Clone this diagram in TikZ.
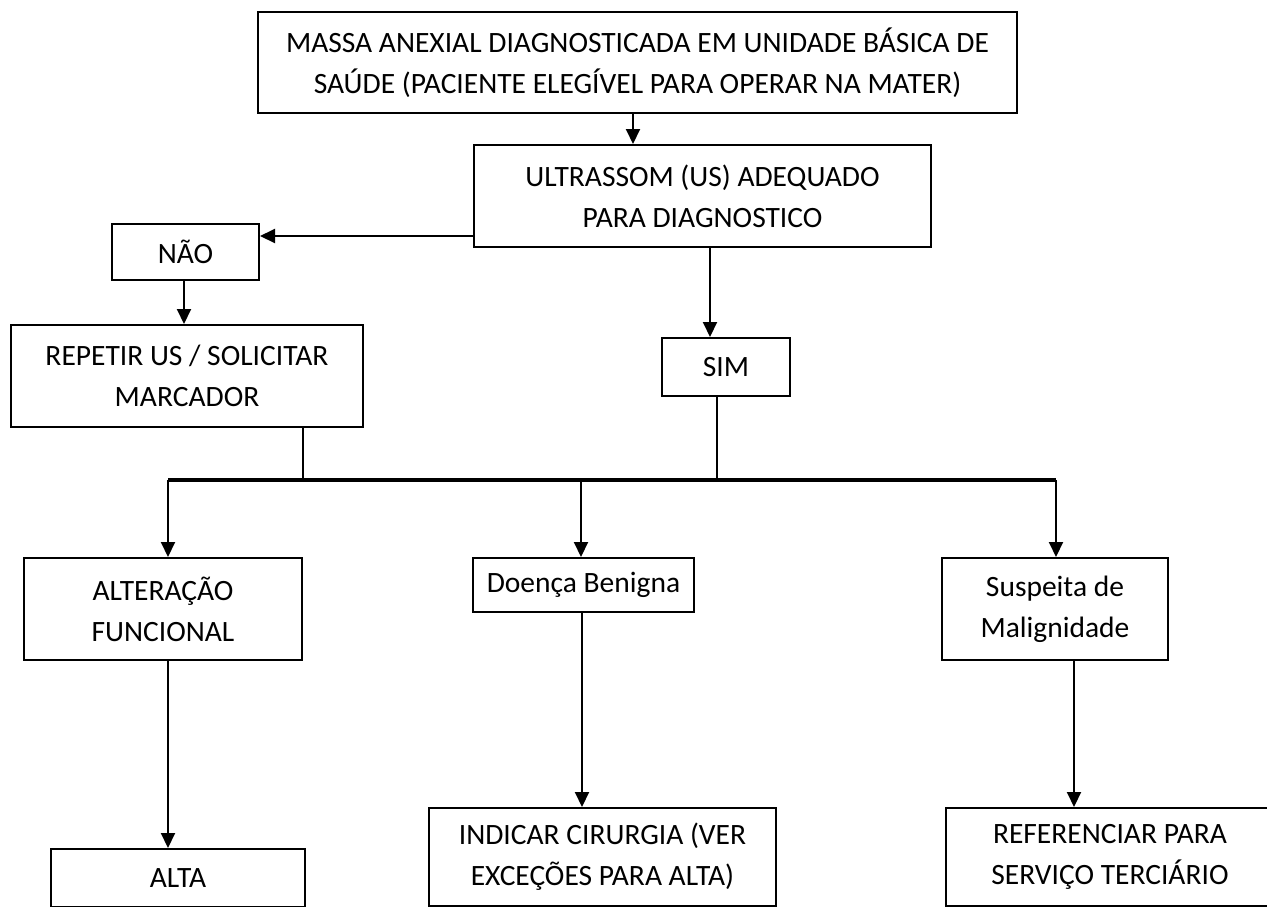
\documentclass[tikz,border=0pt]{standalone}
\usepackage{fontspec}
\setmainfont{Carlito}
\usetikzlibrary{arrows.meta}
\begin{document}
\begin{tikzpicture}[x=1pt,y=-1pt,
  box/.style={draw, line width=2pt, inner sep=0pt, align=center,
              font=\fontsize{29.5}{41}\selectfont},
  flow/.style={line width=2pt, -{Triangle[length=15pt,width=14pt]}},
  link/.style={line width=2pt},
  busline/.style={line width=3.5pt}]
\useasboundingbox (0,0) rectangle (1267,906);
\clip (0,0) rectangle (1267,906);

% boxes
\node[box, minimum width=759pt, minimum height=101pt] (massa) at (637.5,62.5)
  {MASSA ANEXIAL DIAGNOSTICADA EM UNIDADE BÁSICA DE\\SAÚDE (PACIENTE ELEGÍVEL PARA OPERAR NA MATER)};
\node[box, minimum width=457pt, minimum height=102pt] (us) at (702.5,196)
  {ULTRASSOM (US) ADEQUADO\\PARA DIAGNOSTICO};
\node[box, minimum width=147pt, minimum height=56pt] (nao) at (185.5,252) {NÃO};
\node[box, minimum width=352pt, minimum height=102pt] (rep) at (187,376)
  {REPETIR US / SOLICITAR\\MARCADOR};
\node[box, minimum width=128pt, minimum height=58pt] (sim) at (726,367) {SIM};
\node[box, minimum width=278pt, minimum height=102pt] (alt) at (163,609)
  {ALTERAÇÃO\\FUNCIONAL};
\node[box, minimum width=221pt, minimum height=54pt] (ben) at (583.5,585) {Doença Benigna};
\node[box, minimum width=226pt, minimum height=102pt] (mal) at (1055,609)
  {Suspeita de\\Malignidade};
\node[box, minimum width=254pt, minimum height=58pt] (alta) at (178,878) {ALTA};
\node[box, minimum width=347pt, minimum height=98pt] (cir) at (602.5,857)
  {INDICAR CIRURGIA (VER\\EXCEÇÕES PARA ALTA)};
\node[box, minimum width=328pt, minimum height=98pt] (ref) at (1110,857)
  {REFERENCIAR PARA\\SERVIÇO TERCIÁRIO};

% junction points on the horizontal bus
\coordinate (busL) at (168,480);
\coordinate (busR) at (1056,480);
\coordinate (jRep) at (303,480);
\coordinate (jSim) at (717,480);
\coordinate (busM) at (581,480);

% connectors
\draw[flow] (633,0 |- massa.south) -- (633,0 |- us.north);
\draw[flow] (us.west |- 0,236) -- (nao.east |- 0,236);
\draw[flow] (184,0 |- nao.south) -- (184,0 |- rep.north);
\draw[flow] (710,0 |- us.south) -- (710,0 |- sim.north);
\draw[link] (303,0 |- rep.south) -- (jRep);
\draw[link] (717,0 |- sim.south) -- (jSim);
\draw[busline] (busL) -- (busR);
\draw[flow] (busL) -- (busL |- alt.north);
\draw[flow] (busM) -- (busM |- ben.north);
\draw[flow] (busR) -- (busR |- mal.north);
\draw[flow] (168,0 |- alt.south) -- (168,0 |- alta.north);
\draw[flow] (582,0 |- ben.south) -- (582,0 |- cir.north);
\draw[flow] (1074,0 |- mal.south) -- (1074,0 |- ref.north);
\end{tikzpicture}
\end{document}
